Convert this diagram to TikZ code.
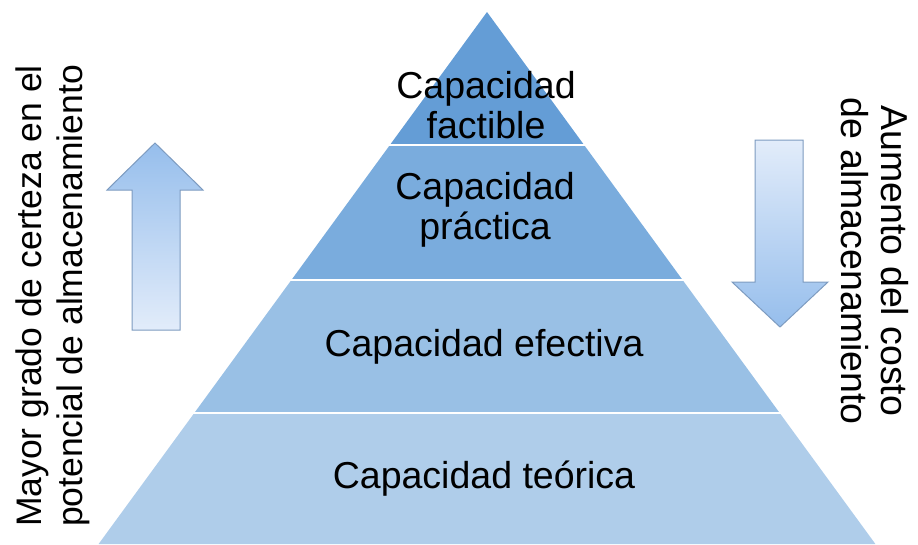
\documentclass[tikz,border=0pt]{standalone}
\usepackage{fontspec}
\setmainfont{Liberation Sans}
\usepackage{tikz}
\usetikzlibrary{positioning}

\definecolor{bandA}{RGB}{100,157,214}
\definecolor{bandB}{RGB}{122,172,221}
\definecolor{bandC}{RGB}{153,192,229}
\definecolor{bandD}{RGB}{175,205,234}
\definecolor{arrowdark}{RGB}{150,190,236}
\definecolor{arrowlight}{RGB}{226,236,250}
\definecolor{arrowline}{RGB}{125,155,192}

\begin{document}
\begin{tikzpicture}[x=1pt, y=-1pt]
    % Default look of the texts
    \tikzstyle{every node}=[font=\fontsize{37.5}{40}\selectfont, align=center, inner sep=0pt];
    \tikzstyle{gap}=[draw=white, line width=2.2pt];
    \tikzstyle{blockarrow}=[draw=arrowline, line width=1pt, line join=miter];
    \useasboundingbox (0,0) rectangle (918,544);

    % Pyramid bands
    \fill[bandA] (487,12) -- (584.1,145) -- (389.9,145) -- cycle;
    \fill[bandB] (389.9,145) -- (584.1,145) -- (682.6,280) -- (291.4,280) -- cycle;
    \fill[bandC] (291.4,280) -- (682.6,280) -- (779.7,413) -- (194.3,413) -- cycle;
    \fill[bandD] (194.3,413) -- (779.7,413) -- (875.4,544) -- (98.6,544) -- cycle;
    \draw[gap] (388,145) -- (586,145) (289,280) -- (685,280) (192,413) -- (782,413);

    % Band labels
    \node (factible) at (486,105) {Capacidad\\factible};
    \node (practica) at (485,210) {Capacidad\\práctica};
    \node (efectiva) at (484,347) {Capacidad efectiva};
    \node (teorica) at (484,479) {Capacidad teórica};

    % Block arrows
    \path[blockarrow, top color=arrowdark, bottom color=arrowlight]
        (155,143) -- (203,190) -- (180,190) -- (180,330)
        -- (132,330) -- (132,190) -- (107,190) -- cycle;
    \path[blockarrow, top color=arrowlight, bottom color=arrowdark]
        (755,140) -- (803,140) -- (803,282) -- (828,282)
        -- (780,327) -- (732,282) -- (755,282) -- cycle;

    % Side texts
    \node[rotate=90, font=\fontsize{35.5}{41}\selectfont] (certeza) at (53,296)
        {Mayor grado de certeza en el\\potencial de almacenamiento};
    \node[rotate=-90] (costo) at (875,261)
        {Aumento del costo\\de almacenamiento};
\end{tikzpicture}
\end{document}
